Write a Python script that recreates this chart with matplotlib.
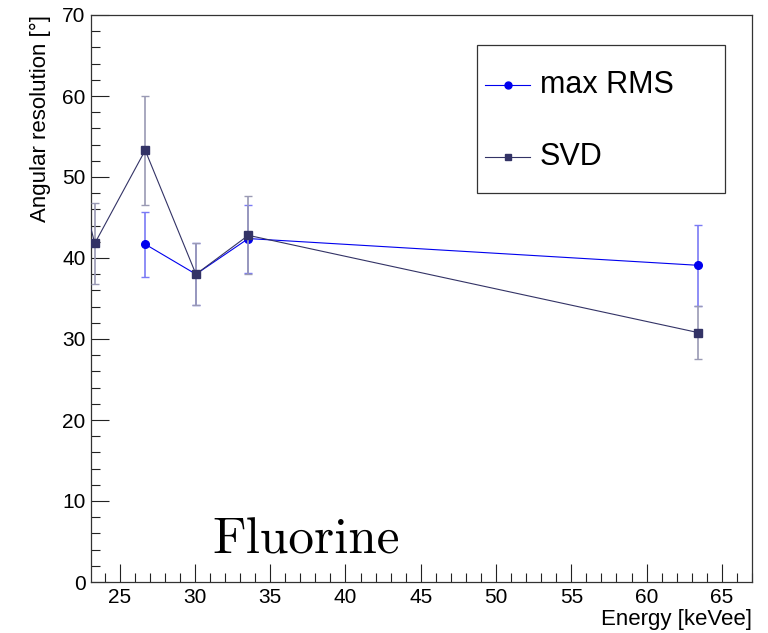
import matplotlib.pyplot as plt
from matplotlib.ticker import MultipleLocator
from matplotlib.lines import Line2D
from matplotlib.patches import Rectangle

plt.rcParams['font.family'] = ['Liberation Sans', 'DejaVu Sans']

# max RMS graph
energy_rms = [26.7, 30.07, 33.55, 63.4]
res_rms = [41.7, 38.0, 42.4, 39.1]
err_rms = [4.0, 3.8, 4.2, 5.0]

# SVD graph (first point sits left of the frame and is clipped)
energy_svd = [22.6, 23.35, 26.7, 30.07, 33.55, 63.4]
res_svd = [47.3, 41.8, 53.3, 38.0, 42.8, 30.8]
err_svd = [4.5, 5.0, 6.7, 3.8, 4.8, 3.3]

x_ticks = [25, 30, 35, 40, 45, 50, 55, 60, 65]
y_ticks = [0, 10, 20, 30, 40, 50, 60, 70]
labels = ['max RMS', 'SVD']

blue = '#0000ee'
navy = '#333366'
W, H = 768, 633

fig = plt.figure(figsize=(W / 100, H / 100), dpi=100)
ax = fig.add_axes([91 / W, 1 - 582 / H, (752 - 91) / W, (582 - 15) / H])

ax.errorbar(energy_rms, res_rms, yerr=err_rms, color=blue, ecolor='#7a7af5',
            lw=0.8, elinewidth=1.2, capsize=3, capthick=1, marker='o', ms=5.5,
            mfc=blue, mec=blue, zorder=3)
ax.errorbar(energy_svd, res_svd, yerr=err_svd, color=navy, ecolor='#9a9ab4',
            lw=0.8, elinewidth=1.2, capsize=3, capthick=1, marker='s', ms=5.5,
            mfc=navy, mec=navy, zorder=4)

ax.set_xlim(23.1, 67.0)
ax.set_ylim(0, 70)
ax.set_xticks(x_ticks)
ax.set_yticks(y_ticks)
ax.xaxis.set_minor_locator(MultipleLocator(1))
ax.yaxis.set_minor_locator(MultipleLocator(2))
ax.tick_params(which='both', direction='in', top=False, right=False,
               labelsize=15, color='#222222')
ax.tick_params(which='major', length=13, width=0.8, pad=4)
ax.tick_params(which='minor', length=6.5, width=0.8)
for s in ax.spines.values():
    s.set_linewidth(0.9)
    s.set_color('#333333')

ax.set_xlabel('Energy [keVee]', fontsize=16, loc='right', labelpad=2)
ax.set_ylabel('Angular resolution [°]', fontsize=16, loc='top', labelpad=8)

ax.text(0.184, 0.05, 'Fluorine', transform=ax.transAxes, fontsize=37,
        family='cmr10', ha='left', va='baseline')

# legend box, drawn by hand in figure pixels
def fx(px):
    return px / W

def fy(py):
    return 1 - py / H

fig.patches.append(Rectangle((fx(477), fy(193)), fx(725) - fx(477), fy(45) - fy(193),
                             transform=fig.transFigure, fill=True, fc='white',
                             ec='#333333', lw=0.9, zorder=5))
styles = [(blue, 'o'), (navy, 's')]
for (c, m), lab, row in zip(styles, labels, [85, 157]):
    fig.add_artist(Line2D([fx(485), fx(530)], [fy(row), fy(row)], color=c, lw=0.8,
                          transform=fig.transFigure, zorder=6))
    fig.add_artist(Line2D([fx(507.5)], [fy(row)], marker=m, ms=5, color=c,
                          transform=fig.transFigure, zorder=6))
    fig.text(fx(540), fy(row), lab, fontsize=22, va='center', ha='left', zorder=6)

fig.savefig('out.png', dpi=100)
